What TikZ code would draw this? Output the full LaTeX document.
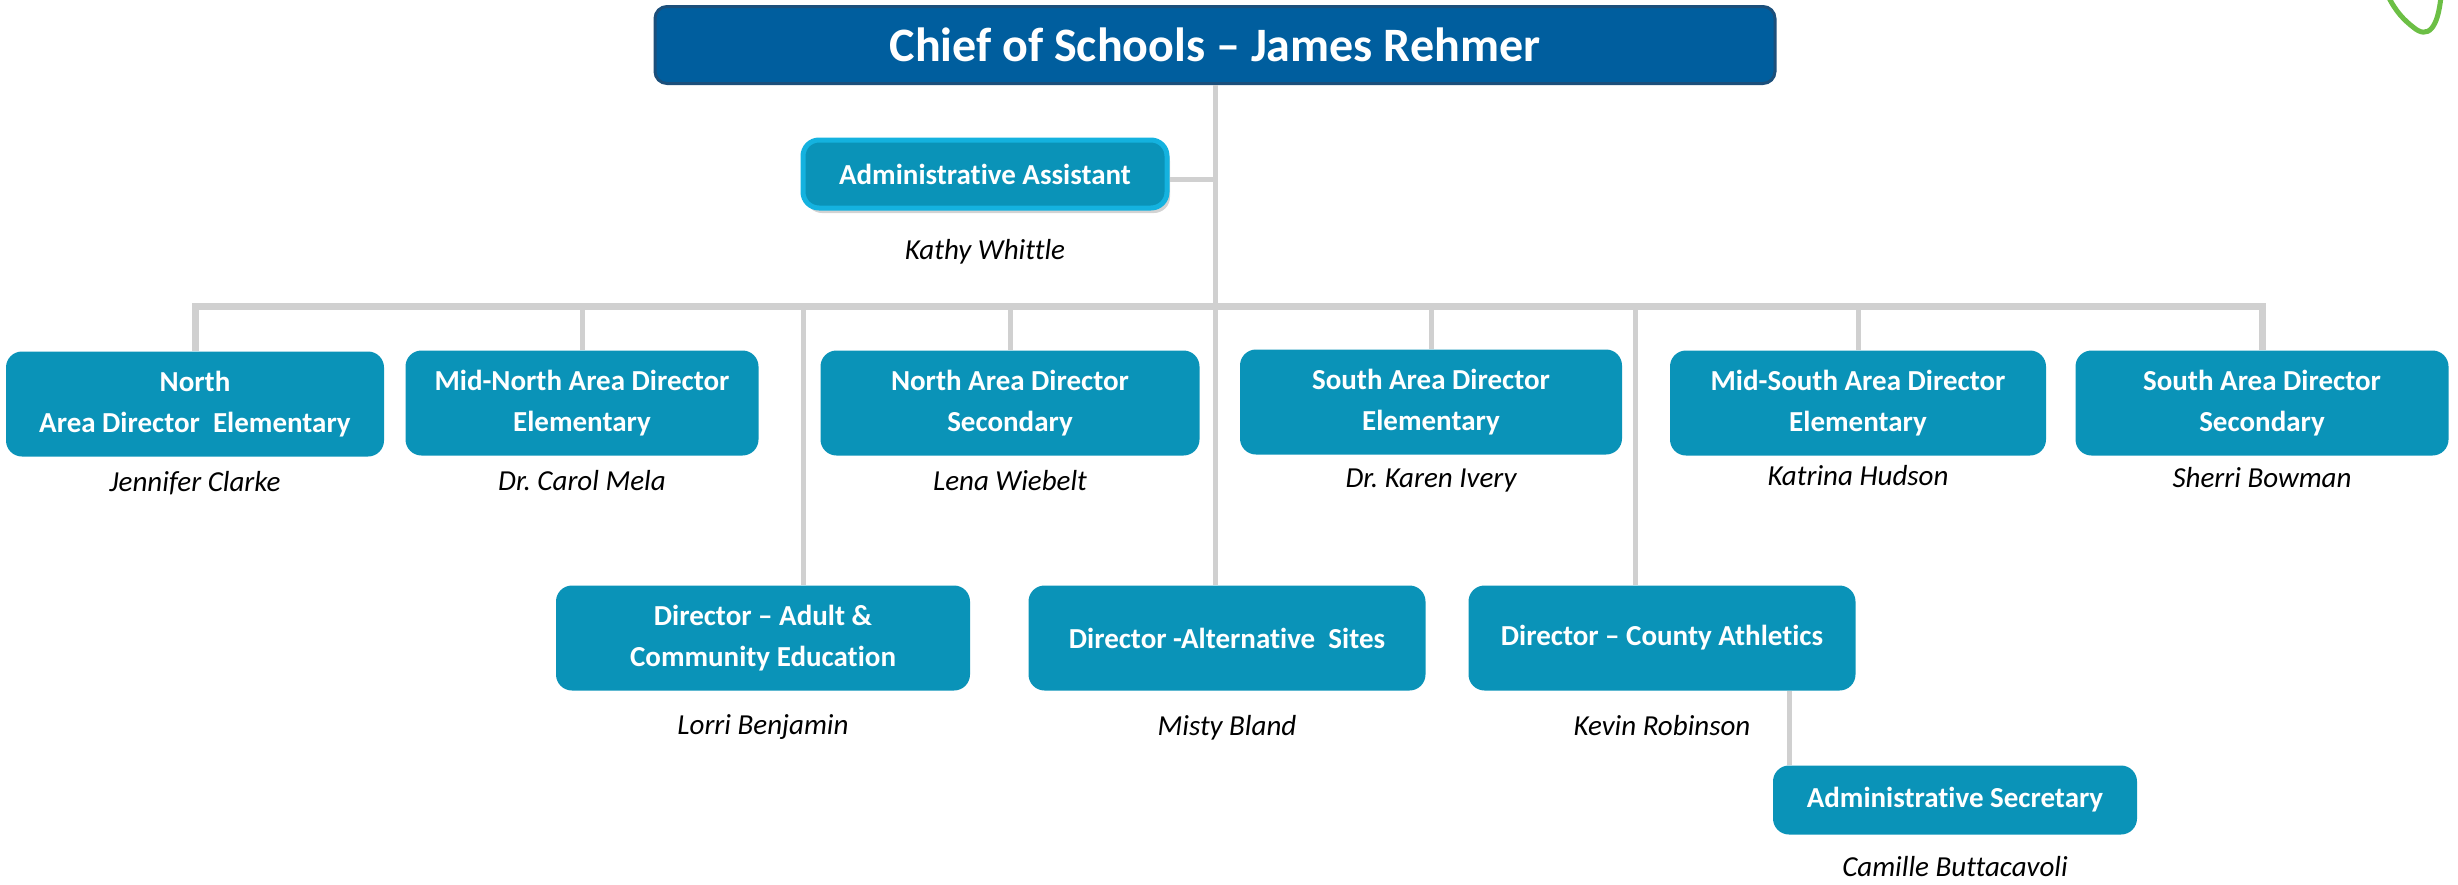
\documentclass[tikz,border=0pt]{standalone}
\usepackage{fontspec}
\setmainfont[Ligatures={TeX,NoCommon}]{Carlito}
\usepackage{tikz}
\usetikzlibrary{positioning,shadows}
\definecolor{chiefblue}{HTML}{005E9E}
\definecolor{chiefedge}{HTML}{1B4F7B}
\definecolor{boxteal}{HTML}{0A93B8}
\definecolor{boxedge}{HTML}{14B2DF}
\definecolor{linkgrey}{HTML}{D0D0D0}
\definecolor{squiggle}{HTML}{6CBF45}
\tikzstyle{chief} = [rectangle, rounded corners=12pt, fill=chiefblue, draw=chiefedge, line width=3pt, text=white, font=\bfseries\fontsize{48}{54}\selectfont, minimum width=1120pt, minimum height=77pt]
\tikzstyle{assist} = [rectangle, rounded corners=16pt, fill=boxteal, draw=boxedge, line width=5pt, text=white, font=\bfseries\fontsize{29}{41}\selectfont, minimum width=364pt, minimum height=68pt, drop shadow={opacity=0.35, shadow xshift=3pt, shadow yshift=-5pt}]
\tikzstyle{post} = [rectangle, rounded corners=16pt, fill=boxteal, text=white, font=\bfseries\fontsize{29}{41}\selectfont, align=center, minimum height=105pt]
\tikzstyle{person} = [inner sep=0pt, font=\itshape\fontsize{29}{34}\selectfont]
\tikzstyle{link} = [draw=linkgrey, line width=5pt]
\frenchspacing

\begin{document}
\begin{tikzpicture}[x=1pt, y=-1pt]
			\useasboundingbox (0,0) rectangle (2458,884);
			\node[chief] (chief) at (1215,45) {Chief of Schools -- James Rehmer};
			\node[assist] (assist) at (985,174) {Administrative Assistant};
			\node[person, below=29pt of assist] (kathy) {Kathy Whittle};
			
			\node[post, minimum width=378pt] (north) at (195,404) {North\\Area Director~ Elementary};
			\node[post, minimum width=353pt] (midnorth) at (582,403) {Mid-North Area Director\\Elementary};
			\node[post, minimum width=379pt] (northsec) at (1010,403) {North Area Director\\Secondary};
			\node[post, minimum width=382pt] (southelem) at (1431,402) {South Area Director\\Elementary};
			\node[post, minimum width=376pt] (midsouth) at (1858,403) {Mid-South Area Director\\Elementary};
			\node[post, minimum width=373pt] (southsec) at (2262,403) {South Area Director\\Secondary};
			\node[person, below=14pt of north] (clarke) {Jennifer Clarke};
			\node[person, below=14pt of midnorth] (mela) {Dr. Carol Mela};
			\node[person, below=14pt of northsec] (wiebelt) {Lena Wiebelt};
			\node[person, below=14pt of southelem] (ivery) {Dr. Karen Ivery};
			\node[person, below=9pt of midsouth] (hudson) {Katrina Hudson};
			\node[person, below=11pt of southsec] (bowman) {Sherri Bowman};
			
			\node[post, minimum width=414pt] (adult) at (763,638) {Director -- Adult \&\\Community Education};
			\node[post, minimum width=397pt] (alt) at (1227,638) {Director -Alternative~ Sites};
			\node[post, minimum width=387pt] (athletics) at (1662,638) {Director -- County Athletics};
			\node[person, below=24pt of adult] (benjamin) {Lorri Benjamin};
			\node[person, below=24pt of alt] (bland) {Misty Bland};
			\node[person, below=24pt of athletics] (robinson) {Kevin Robinson};
			
			\node[post, minimum width=364pt, minimum height=69pt] (secretary) at (1955,800) {Administrative Secretary};
			\node[person, below=21pt of secretary] (buttacavoli) {Camille Buttacavoli};
			
			%lines
			\coordinate (bar) at (1216,306);
			\draw[link] (chief.south) -- (chief.south |- alt.north);
			\draw[link] (assist.east) ++(0,5) -- ++(47,0);
			\draw[link, line width=7pt] (north.north) |- (southsec.north |- bar) -- (southsec.north);
			\foreach \n in {midnorth, northsec, southelem, midsouth}
				\draw[link] (\n.north) -- (\n.north |- bar);
			\draw[link] ([xshift=40pt]adult.north) -- ([xshift=40pt]adult.north |- bar);
			\draw[link] ([xshift=-27pt]athletics.north) -- ([xshift=-27pt]athletics.north |- bar);
			\draw[link] ([xshift=17pt]secretary.north west) -- ([xshift=17pt]secretary.north west |- athletics.south);
			
			\draw[squiggle, line width=5pt, line cap=round] (2388,-4) .. controls (2396,12) and (2404,20) .. (2413,27) .. controls (2428,40) and (2438,28) .. (2441,-4);
		\end{tikzpicture}
\end{document}
